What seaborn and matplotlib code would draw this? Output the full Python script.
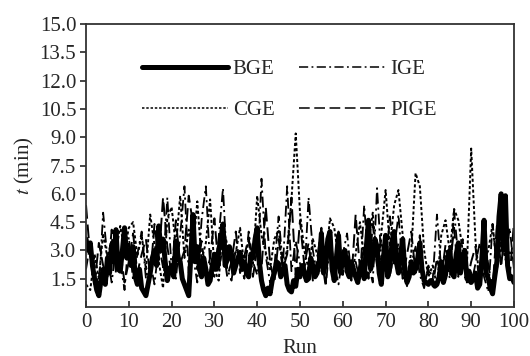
#!/usr/bin/env python
"""
recreate the BGE / CGE / IGE / PIGE run-time chart
"""

import numpy as np
import pandas as pd
import seaborn as sns
import matplotlib
matplotlib.use("Agg")
import matplotlib.pyplot as plt

## data (t in min per run)
runs = list(range(0, 101))

# BGE was sampled twice per run
bge_runs = [i * 0.5 for i in range(201)]
bge = [3.6, 3.0, 3.4, 2.2, 1.5, 0.9, 0.6, 1.4, 2.0, 1.2, 2.6, 1.8, 3.3, 2.4, 4.1, 2.0, 1.9, 3.0, 4.2, 2.6, 3.0,
       2.2, 3.2, 1.6, 1.2, 2.0, 1.0, 0.8, 0.6, 1.2, 1.8, 2.6, 3.0, 2.2, 4.3, 3.0, 3.6, 2.4, 1.4, 2.0, 2.2,
       1.6, 3.5, 2.6, 2.4, 1.5, 1.2, 0.9, 0.6, 2.8, 4.9, 2.4, 3.2, 2.0, 1.6, 2.6, 2.0, 1.2, 1.4, 2.2, 2.8,
       2.0, 3.0, 3.6, 4.4, 2.2, 2.5, 3.2, 2.8, 1.8, 2.2, 2.6, 2.9, 2.0, 2.4, 1.8, 1.6, 2.8, 2.6, 3.6, 4.2,
       2.4, 1.4, 0.9, 0.6, 1.0, 0.7, 1.4, 1.8, 2.4, 2.3, 1.6, 1.9, 2.2, 1.2, 0.9, 0.8, 1.4, 1.1, 2.0, 1.6,
       2.2, 1.9, 1.4, 1.5, 2.6, 2.2, 1.6, 1.8, 2.4, 3.9, 1.8, 2.4, 3.6, 4.0, 2.0, 1.4, 2.6, 3.8, 1.8, 2.6,
       3.0, 1.9, 1.6, 2.4, 2.0, 1.6, 1.3, 2.0, 2.4, 1.5, 3.2, 4.6, 2.0, 2.6, 3.6, 3.2, 1.8, 1.2, 2.6, 3.8,
       1.6, 2.1, 3.4, 4.0, 2.4, 1.8, 2.8, 3.6, 1.9, 1.3, 1.6, 2.4, 1.8, 2.0, 2.6, 3.4, 2.0, 1.4, 1.3, 1.2,
       1.4, 1.3, 1.1, 1.2, 1.6, 2.4, 1.3, 1.7, 2.6, 3.0, 1.8, 1.6, 2.8, 3.4, 1.8, 2.6, 3.0, 1.5, 1.9, 1.3,
       1.5, 1.8, 1.0, 1.2, 2.6, 4.6, 1.8, 1.5, 1.0, 0.7, 1.6, 2.4, 4.8, 6.0, 3.0, 5.9, 2.2, 1.5, 1.6, 1.3]

cge = [1.2, 0.9, 2.8, 1.5, 3.9, 2.6, 3.6, 2.9, 4.3, 3.0,
       4.2, 4.5, 2.7, 3.8, 2.0, 4.9, 3.3, 2.4, 1.0, 4.7,
       5.3, 3.2, 5.9, 2.6, 4.1, 3.0, 5.6, 2.5, 3.4, 5.7,
       2.0, 1.4, 4.3, 3.3, 2.5, 2.9, 4.2, 2.1, 3.6, 2.3,
       5.9, 3.8, 2.9, 2.0, 3.6, 4.1, 2.0, 3.1, 5.7, 9.2,
       5.0, 3.0, 2.0, 3.6, 2.8, 1.9, 2.4, 4.7, 4.2, 2.6,
       3.0, 2.2, 1.6, 2.8, 4.5, 2.6, 3.4, 5.0, 2.3, 3.9,
       6.2, 3.2, 5.4, 6.2, 3.8, 1.6, 2.9, 7.1, 6.4, 3.0,
       1.6, 2.2, 1.1, 3.8, 4.6, 2.9, 5.2, 4.6, 3.0, 2.2,
       8.4, 3.5, 1.4, 2.5, 3.0, 4.4, 2.0, 3.3, 2.6, 2.9,
       2.4]

ige = [2.0, 3.4, 2.2, 1.0, 5.0, 2.6, 1.3, 3.2, 2.4, 0.9,
       3.7, 1.4, 2.8, 4.0, 1.5, 2.4, 1.2, 3.3, 2.1, 5.8,
       2.0, 1.5, 3.8, 6.4, 1.8, 2.7, 1.3, 4.6, 6.4, 2.2,
       1.6, 3.7, 6.3, 2.0, 1.4, 3.1, 2.3, 1.5, 4.0, 2.4,
       1.7, 6.8, 2.7, 1.3, 2.1, 4.8, 2.2, 6.4, 1.9, 3.5,
       2.3, 1.5, 5.8, 3.0, 1.7, 2.6, 1.1, 3.4, 2.3, 1.2,
       2.8, 3.9, 1.6, 2.4, 1.4, 5.4, 2.2, 1.3, 6.3, 2.5,
       3.5, 1.6, 3.0, 4.9, 2.0, 1.1, 2.3, 3.2, 1.7, 1.0,
       2.2, 1.4, 4.9, 2.0, 2.8, 1.5, 5.1, 2.6, 3.6, 1.4,
       1.2, 2.3, 3.4, 1.6, 0.8, 4.4, 2.1, 3.8, 2.5, 4.2,
       2.0]

pige = [5.4, 2.6, 1.2, 3.4, 2.2, 1.6, 4.1, 1.8, 3.0, 1.3,
        2.4, 3.9, 1.8, 2.8, 3.6, 1.6, 4.4, 2.5, 5.8, 3.2,
        1.7, 4.6, 2.3, 3.0, 5.9, 4.4, 2.0, 3.5, 1.7, 2.6,
        4.7, 2.0, 3.2, 1.6, 2.4, 4.0, 1.8, 2.7, 3.7, 1.6,
        3.1, 2.0, 5.3, 2.4, 1.3, 3.6, 2.0, 2.8, 5.8, 1.7,
        4.6, 2.2, 3.4, 1.4, 2.5, 4.2, 1.3, 3.8, 2.1, 4.0,
        1.7, 3.0, 1.4, 4.9, 2.0, 3.2, 1.5, 4.4, 2.2, 3.6,
        1.9, 4.8, 2.3, 3.4, 1.5, 2.8, 4.0, 1.8, 3.8, 1.2,
        2.0, 1.1, 2.6, 1.5, 3.3, 2.0, 4.2, 1.6, 2.7, 1.3,
        2.4, 3.2, 1.1, 3.8, 2.2, 1.0, 4.3, 2.1, 4.6, 1.6,
        4.5]

y_ticks = [1.5, 3.0, 4.5, 6.0, 7.5, 9.0, 10.5, 12.0, 13.5, 15.0]
x_ticks = [0, 10, 20, 30, 40, 50, 60, 70, 80, 90, 100]

## plot style, fonts and colors
sns.set_theme(style="ticks")
plt.rcParams['font.family'] = ['Liberation Serif', 'DejaVu Serif']
plt.rcParams['mathtext.fontset'] = 'stix'
FS = 15


def create_plot():
    fig = plt.figure(figsize=(5.3, 3.56), dpi=100)
    ax = fig.add_axes([0.1623, 0.1376, 0.8075, 0.7949])

    df = pd.DataFrame({"Run": runs, "CGE": cge, "IGE": ige, "PIGE": pige})
    df_b = pd.DataFrame({"Run": bge_runs, "BGE": bge})

    # (frame, series, linewidth, dash pattern) -- None means solid
    styles = [(df, "CGE", 1.4, (1.6, 1.2)),
              (df, "IGE", 1.3, (6, 2.2, 1.2, 2.2)),
              (df, "PIGE", 1.4, (7, 3)),
              (df_b, "BGE", 3.6, None)]
    for frame, name, lw, dash in styles:
        sns.lineplot(data=frame, x="Run", y=name, ax=ax, color="black",
                     linewidth=lw, label=name)
        line = ax.get_lines()[-1]
        if dash is not None:
            line.set_dashes(dash)

    ax.set_xlim(0, 100)
    ax.set_ylim(0, 15)
    ax.set_xticks(x_ticks)
    ax.set_yticks(y_ticks)
    ax.set_yticklabels(["%.1f" % v for v in y_ticks])
    ax.tick_params(axis="x", direction="in", length=4, width=1.2, pad=4, labelsize=FS)
    ax.tick_params(axis="y", direction="out", length=4, width=1.2, pad=3, labelsize=FS)
    for sp in ax.spines.values():
        sp.set_linewidth(1.3)
        sp.set_color("#333333")

    ax.set_xlabel("Run", fontsize=FS, labelpad=5)
    ax.set_ylabel(r"$t$ (min)", fontsize=FS, labelpad=3)

    # legend in two columns, order BGE IGE / CGE PIGE
    handles, labels = ax.get_legend_handles_labels()
    lookup = dict(zip(labels, handles))
    order = ["BGE", "CGE", "IGE", "PIGE"]
    leg = ax.legend([lookup[k] for k in order], order, ncol=2, frameon=False,
                    loc="upper left", bbox_to_anchor=(0.131, 0.875),
                    borderaxespad=0, borderpad=0, handlelength=4.1,
                    handletextpad=0.25, columnspacing=1.2, labelspacing=1.05,
                    fontsize=FS)
    for h in leg.legend_handles:
        if h.get_linewidth() < 2:
            h.set_linewidth(1.1)

    fig.savefig("out.png", dpi=100)


if __name__ == "__main__":
    create_plot()
